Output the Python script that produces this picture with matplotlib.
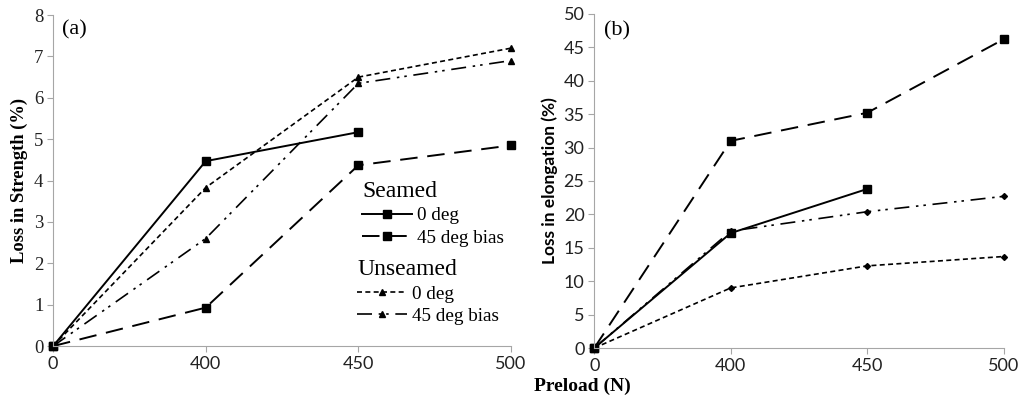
import matplotlib
matplotlib.use('Agg')
import matplotlib.pyplot as plt

# preload categories (equally spaced on the chart)
preload = ['0', '400', '450', '500']

# (a) loss in strength (%)
str_seam_0 = [0, 4.47, 5.17]
str_seam_45 = [0, 0.93, 4.37, 4.85]
str_unseam_0 = [0, 3.83, 6.50, 7.20]
str_unseam_45 = [0, 2.60, 6.35, 6.90]

# (b) loss in elongation (%)
elo_seam_0 = [0, 17.2, 23.8]
elo_seam_45 = [0, 31.0, 35.2, 46.2]
elo_unseam_0 = [0, 9.0, 12.3, 13.7]
elo_unseam_45 = [0, 17.5, 20.4, 22.7]

SERIF = 'Liberation Serif'
SANS = 'Lato'
GRAY = '#a6a6a6'

styles = {
    'seam0': dict(color='black', lw=1.4, ls='-', marker='s', ms=6, clip_on=False),
    'seam45': dict(color='black', lw=1.4, dashes=(9, 5), marker='s', ms=6, clip_on=False),
    'unseam0': dict(color='black', lw=1.2, dashes=(3, 2), marker='^', ms=4, clip_on=False),
    'unseam45': dict(color='black', lw=1.2, dashes=(9, 4, 1.5, 3, 1.5, 4), marker='^', ms=4,
                     clip_on=False),
}

fig = plt.figure(figsize=(10.21, 3.96), dpi=100)
ax1 = fig.add_axes([0.052, 0.126, 0.4485, 0.836])
ax2 = fig.add_axes([0.582, 0.121, 0.401, 0.844])


def style_axes(ax, yfont, ysize, ymax, ystep):
    for s in ['top', 'right']:
        ax.spines[s].set_visible(False)
    for s in ['left', 'bottom']:
        ax.spines[s].set_color(GRAY)
    ax.set_xlim(0, 3)
    ax.set_ylim(0, ymax)
    ax.set_xticks(range(4))
    ax.set_xticklabels(preload)
    ax.set_yticks(range(0, ymax + 1, ystep))
    ax.tick_params(colors=GRAY, labelcolor='#222222', length=4, width=0.8, pad=3)
    ax.tick_params(axis='x', labelsize=13, labelfontfamily=SANS)
    ax.tick_params(axis='y', labelsize=ysize, labelfontfamily=yfont)


x = range(4)
h1, = ax1.plot(x[:3], str_seam_0, **styles['seam0'])
h2, = ax1.plot(x, str_seam_45, **styles['seam45'])
h3, = ax1.plot(x, str_unseam_0, **styles['unseam0'])
h4, = ax1.plot(x, str_unseam_45, **styles['unseam45'])
style_axes(ax1, SERIF, 13.5, 8, 1)
ax1.set_ylabel('Loss in Strength (%)', fontfamily=SERIF, fontweight='bold',
               fontsize=13.3, labelpad=4)
ax1.text(0.02, 0.985, '(a)', transform=ax1.transAxes, fontfamily=SERIF,
         fontsize=16, va='top')

leg_kw = dict(loc='upper left', frameon=False, prop=dict(family=SERIF, size=13.8),
              handlelength=2.6, handletextpad=0.25, labelspacing=0.25,
              borderpad=0.0, borderaxespad=0.0)
leg1 = ax1.legend([h1, h2], ['0 deg', '45 deg bias'], title='Seamed',
                  bbox_to_anchor=(0.675, 0.498), **leg_kw)
leg2 = ax1.legend([h3, h4], ['0 deg', '45 deg bias'], title='Unseamed',
                  bbox_to_anchor=(0.664, 0.262), **leg_kw)
for lg in (leg1, leg2):
    lg.get_title().set_fontfamily(SERIF)
    lg.get_title().set_fontsize(17)
    lg._legend_box.align = 'left'
ax1.add_artist(leg1)

ax2.plot(x[:3], elo_seam_0, **styles['seam0'])
ax2.plot(x, elo_seam_45, **styles['seam45'])
s = dict(styles['unseam0']); s['marker'] = 'D'; s['ms'] = 3
ax2.plot(x, elo_unseam_0, **s)
s = dict(styles['unseam45']); s['marker'] = 'D'; s['ms'] = 3
ax2.plot(x, elo_unseam_45, **s)
style_axes(ax2, SANS, 13, 50, 5)
ax2.set_ylabel('Loss in elongation (%)', fontfamily=SANS, fontweight='bold',
               fontsize=12.5, labelpad=4)
ax2.text(0.025, 0.978, '(b)', transform=ax2.transAxes, fontfamily=SERIF,
         fontsize=16, va='top')

fig.text(0.570, 0.025, 'Preload (N)', fontfamily=SERIF, fontweight='bold',
         fontsize=14, ha='center', va='center')

plt.savefig('out.png', dpi=100)
